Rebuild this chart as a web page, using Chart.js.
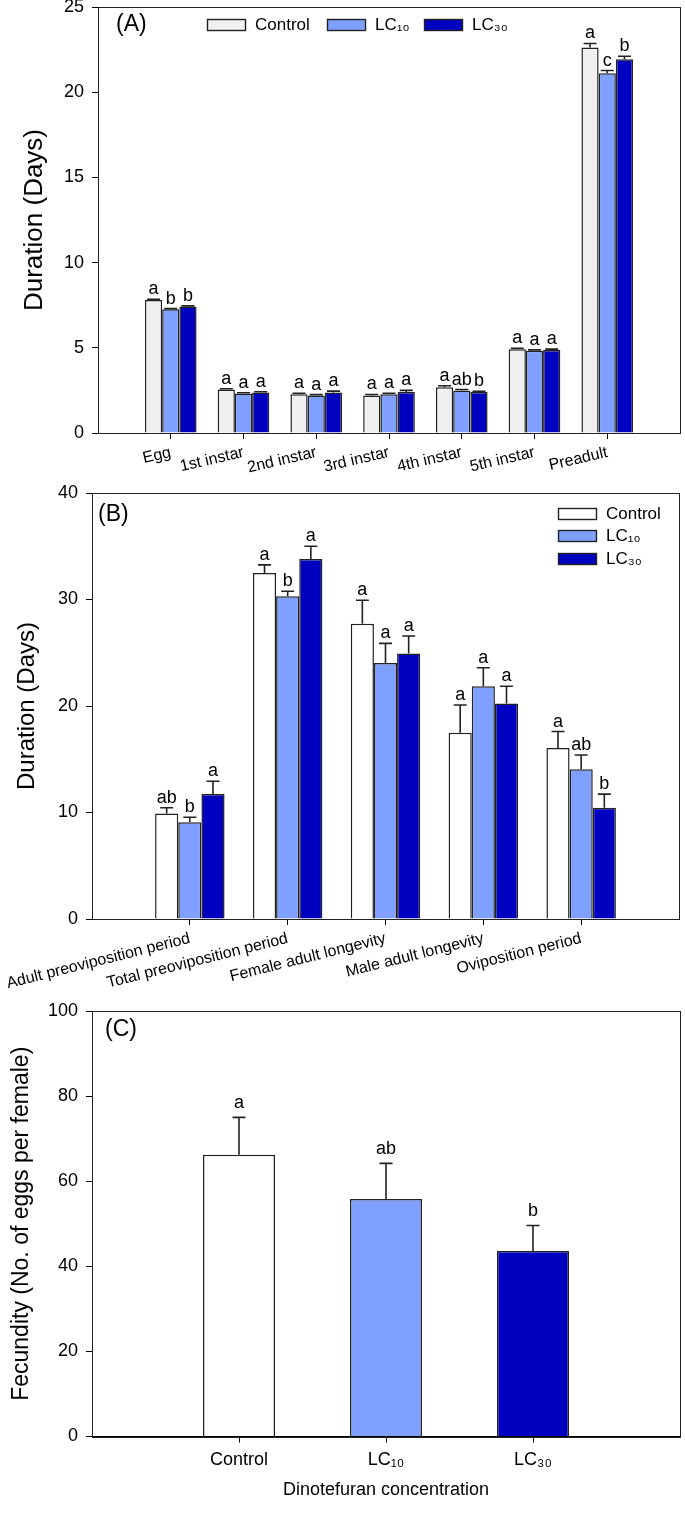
<!DOCTYPE html>
<html><head><meta charset="utf-8">
<script src="https://cdn.jsdelivr.net/npm/chart.js@4.4.1/dist/chart.umd.min.js"></script>
<style>
html,body{margin:0;padding:0;background:#fff;}
#wrap{position:relative;width:685px;height:1519px;overflow:hidden;background:#fff;}
.pane{position:absolute;left:0;width:685px;}
canvas{display:block;}
</style></head><body>
<div id="wrap">
<div class="pane" style="top:0px;height:500px"><canvas id="cA" width="685" height="500"></canvas></div>
<div class="pane" style="top:480px;height:530px"><canvas id="cB" width="685" height="530"></canvas></div>
<div class="pane" style="top:1000px;height:519px"><canvas id="cC" width="685" height="519"></canvas></div>
</div>
<script>
// ---------- DATA ----------
const seriesNames = ['Control', 'LC\u2081\u2080', 'LC\u2083\u2080'];

// Panel A: developmental stage durations (days)
const stagesA = ['Egg', '1st instar', '2nd instar', '3rd instar', '4th instar', '5th instar', 'Preadult'];
const controlA = [7.81, 2.55, 2.28, 2.20, 2.69, 4.91, 22.63];
const controlA_se = [0.04, 0.05, 0.05, 0.06, 0.08, 0.06, 0.23];
const lc10A = [7.26, 2.32, 2.20, 2.28, 2.50, 4.83, 21.11];
const lc10A_se = [0.04, 0.04, 0.05, 0.05, 0.05, 0.05, 0.16];
const lc30A = [7.42, 2.38, 2.38, 2.41, 2.40, 4.87, 21.94];
const lc30A_se = [0.04, 0.04, 0.08, 0.09, 0.05, 0.05, 0.17];
const controlA_letters = ['a', 'a', 'a', 'a', 'a', 'a', 'a'];
const lc10A_letters = ['b', 'a', 'a', 'a', 'ab', 'a', 'c'];
const lc30A_letters = ['b', 'a', 'a', 'a', 'b', 'a', 'b'];
const ticksA = [0, 5, 10, 15, 20, 25];

// Panel B: adult periods (days)
const periodsB = ['Adult preoviposition period', 'Total preoviposition period', 'Female adult longevity', 'Male adult longevity', 'Oviposition period'];
const controlB = [9.91, 32.50, 27.73, 17.50, 16.06];
const controlB_se = [0.54, 0.75, 2.20, 2.60, 1.54];
const lc10B = [9.09, 30.30, 24.03, 21.86, 14.05];
const lc10B_se = [0.47, 0.47, 1.85, 1.73, 1.35];
const lc30B = [11.73, 33.80, 24.94, 20.24, 10.45];
const lc30B_se = [1.20, 1.20, 1.63, 1.62, 1.28];
const controlB_letters = ['ab', 'a', 'a', 'a', 'a'];
const lc10B_letters = ['b', 'b', 'a', 'a', 'ab'];
const lc30B_letters = ['a', 'a', 'a', 'a', 'b'];
const ticksB = [0, 10, 20, 30, 40];

// Panel C: fecundity
const concC = ['Control', 'LC\u2081\u2080', 'LC\u2083\u2080'];
const fecundityC = [66.2, 55.8, 43.6];
const fecundityC_se = [8.8, 8.4, 6.0];
const fecundityC_letters = ['a', 'ab', 'b'];
const ticksC = [0, 20, 40, 60, 80, 100];

// ---------- STYLE ----------
const FF = "'Liberation Sans', Arial, Helvetica, sans-serif";
const COL_CTRL_A = '#F0F0F0', COL_CTRL = '#FFFFFF', COL_LC10 = '#80A0FF', COL_LC30 = '#0000C0';
const EDGE = '#222222';

const pad = a => [null, ...a, null];
const padL = a => ['', ...a, ''];

const errPlugin = {
  id: 'errbars',
  afterDatasetsDraw(chart, args, o) {
    const ctx = chart.ctx, ys = chart.scales.y;
    ctx.save();
    chart.data.datasets.forEach((ds, i) => {
      const meta = chart.getDatasetMeta(i);
      meta.data.forEach((bar, j) => {
        const v = ds.data[j];
        if (v == null) return;
        const e = ds.errors[j];
        const yv = ys.getPixelForValue(v), yt = ys.getPixelForValue(v + e);
        ctx.strokeStyle = EDGE; ctx.lineWidth = 1.6;
        ctx.beginPath();
        ctx.moveTo(bar.x, yv); ctx.lineTo(bar.x, yt);
        ctx.moveTo(bar.x - o.cap / 2, yt); ctx.lineTo(bar.x + o.cap / 2, yt);
        ctx.stroke();
        const L = ds.letters[j];
        if (L) {
          ctx.fillStyle = '#000'; ctx.font = '18px ' + FF;
          ctx.textAlign = 'center'; ctx.textBaseline = 'alphabetic';
          ctx.fillText(L, bar.x, yt - o.gap);
        }
      });
    });
    ctx.restore();
  }
};

const framePlugin = {
  id: 'frame',
  afterDraw(chart, args, o) {
    const ctx = chart.ctx, a = chart.chartArea;
    ctx.save();
    ctx.strokeStyle = '#222'; ctx.lineWidth = 1;
    ctx.strokeRect(Math.round(a.left) + 0.5, Math.round(a.top) + 0.5, Math.round(a.right - a.left), Math.round(a.bottom - a.top));
    ctx.fillStyle = '#000'; ctx.font = o.tagSize + 'px ' + FF;
    ctx.textAlign = 'left'; ctx.textBaseline = 'middle';
    ctx.fillText(o.tag, o.tagX, o.tagY);
    if (o.legend) {
      chart.data.datasets.forEach((ds, i) => {
        const p = o.legend[i];
        const bg = Array.isArray(ds.backgroundColor) ? ds.backgroundColor[1] : ds.backgroundColor;
        ctx.fillStyle = bg;
        ctx.fillRect(p.x, p.y - 6, 39, 12);
        ctx.strokeStyle = EDGE; ctx.lineWidth = 1.4;
        ctx.strokeRect(p.x + 0.5, p.y - 6 + 0.5, 38, 11);
        ctx.fillStyle = '#000'; ctx.font = '17px ' + FF;
        ctx.textAlign = 'left'; ctx.textBaseline = 'middle';
        ctx.fillText(ds.label, p.x + 48, p.y);
      });
    }
    ctx.restore();
  }
};

function yAxis(max, ticks, title, tSize, tPad, width) {
  return {
    type: 'linear', min: 0, max: max,
    afterBuildTicks(s) { s.ticks = ticks.map(v => ({ value: v })); },
    ticks: { color: '#000', font: { family: FF, size: 18 }, padding: 8 },
    grid: { drawOnChartArea: false, tickLength: 6, color: '#000', lineWidth: 1 },
    border: { display: true, color: '#000', width: 1 },
    title: { display: true, text: title, color: '#000', font: { family: FF, size: tSize, lineHeight: 1.2 }, padding: { top: tPad, bottom: 0 } },
    afterFit(s) { s.width = width; s.paddingTop = 0; s.paddingBottom = 0; }
  };
}
function xAxis(labels, rot, fSize, height, tpad, title) {
  const n = labels.length;
  const ax = {
    type: 'category', labels: labels, offset: false,
    grid: { offset: false, drawOnChartArea: false, tickLength: 6, lineWidth: 1,
      color: c => (c.index === 0 || c.index === n - 1) ? 'rgba(0,0,0,0)' : '#000' },
    border: { display: true, color: '#000', width: 1 },
    ticks: { autoSkip: false, maxRotation: rot, minRotation: rot, color: '#000', font: { family: FF, size: fSize }, padding: tpad },
    afterFit(s) { s.height = height; s.paddingLeft = 0; s.paddingRight = 0; }
  };
  if (title) ax.title = { display: true, text: title, color: '#000', font: { family: FF, size: 18, lineHeight: 1.2 }, padding: { top: 0, bottom: 18 } };
  return ax;
}
function ds(label, data, se, letters, color) {
  return { label, data: pad(data), errors: pad(se), letters: pad(letters),
    backgroundColor: color, borderColor: EDGE, borderWidth: 1.5,
    categoryPercentage: 0.71, barPercentage: 1.0 };
}
const common = { responsive: false, animation: false, events: [] };

// ---------- PANEL A ----------
new Chart(document.getElementById('cA'), {
  type: 'bar',
  data: { labels: padL(stagesA), datasets: [
    ds(seriesNames[0], controlA, controlA_se, controlA_letters, COL_CTRL_A),
    ds(seriesNames[1], lc10A, lc10A_se, lc10A_letters, COL_LC10),
    ds(seriesNames[2], lc30A, lc30A_se, lc30A_letters, COL_LC30)
  ]},
  options: Object.assign({}, common, {
    layout: { padding: { top: 7, right: 5, left: 0, bottom: 0 } },
    scales: { x: xAxis(padL(stagesA), 13, 16, 67, 4), y: yAxis(25, ticksA, 'Duration (Days)', 26, 19.4, 98) },
    plugins: { legend: { display: false }, tooltip: { enabled: false },
      errbars: { cap: 13, gap: 5 },
      frame: { tag: '(A)', tagSize: 23, tagX: 116, tagY: 25,
        legend: [{ x: 207, y: 25 }, { x: 327, y: 25 }, { x: 424, y: 25 }] } }
  }),
  plugins: [errPlugin, framePlugin]
});

// ---------- PANEL B ----------
new Chart(document.getElementById('cB'), {
  type: 'bar',
  data: { labels: padL(periodsB), datasets: [
    ds(seriesNames[0], controlB, controlB_se, controlB_letters, COL_CTRL),
    ds(seriesNames[1], lc10B, lc10B_se, lc10B_letters, COL_LC10),
    ds(seriesNames[2], lc30B, lc30B_se, lc30B_letters, COL_LC30)
  ]},
  options: Object.assign({}, common, {
    layout: { padding: { top: 13, right: 6, left: 0, bottom: 0 } },
    scales: { x: xAxis(padL(periodsB), 14, 16, 91, 4), y: yAxis(40, ticksB, 'Duration (Days)', 24, 12.6, 92) },
    plugins: { legend: { display: false }, tooltip: { enabled: false },
      errbars: { cap: 13, gap: 5 },
      frame: { tag: '(B)', tagSize: 23, tagX: 98, tagY: 35,
        legend: [{ x: 558, y: 34 }, { x: 558, y: 56 }, { x: 558, y: 79 }] } }
  }),
  plugins: [errPlugin, framePlugin]
});

// ---------- PANEL C ----------
const dC = ds('Fecundity', fecundityC, fecundityC_se, fecundityC_letters, pad([COL_CTRL, COL_LC10, COL_LC30]).map(c => c || '#fff'));
dC.categoryPercentage = 0.49;
new Chart(document.getElementById('cC'), {
  type: 'bar',
  data: { labels: padL(concC), datasets: [dC] },
  options: Object.assign({}, common, {
    layout: { padding: { top: 11, right: 5, left: 0, bottom: 0 } },
    scales: { x: xAxis(padL(concC), 0, 18, 82.5, 7, 'Dinotefuran concentration'), y: yAxis(100, ticksC, 'Fecundity (No. of eggs per female)', 23, 8, 92) },
    plugins: { legend: { display: false }, tooltip: { enabled: false },
      errbars: { cap: 13, gap: 9 },
      frame: { tag: '(C)', tagSize: 23, tagX: 105, tagY: 30 } }
  }),
  plugins: [errPlugin, framePlugin]
});
</script>
</body></html>
